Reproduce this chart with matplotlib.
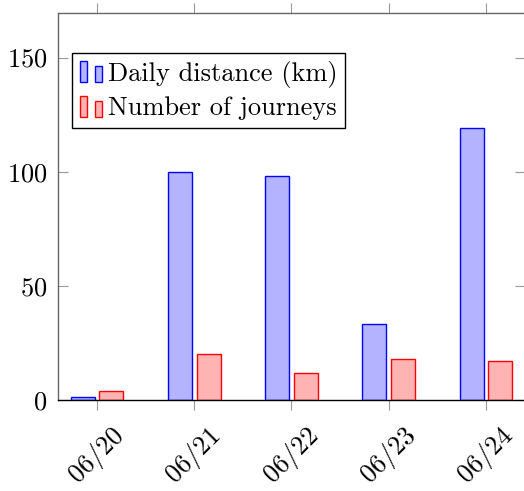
import matplotlib
matplotlib.use('Agg')
import numpy as np
import matplotlib.pyplot as plt
from matplotlib.patches import Rectangle
from matplotlib.legend_handler import HandlerBase

plt.rcParams['font.family'] = ['cmr10', 'DejaVu Serif']
plt.rcParams['mathtext.fontset'] = 'cm'
plt.rcParams['axes.formatter.use_mathtext'] = True

# data
dates = ['06/20', '06/21', '06/22', '06/23', '06/24']
distance = [1.3, 100, 98.3, 33.5, 119.3]
journeys = [4, 20, 12, 18, 17]
yticks = [0, 50, 100, 150]


class BarPairHandler(HandlerBase):
    # pgfplots style ybar legend: two little bars of different heights
    def create_artists(self, legend, orig_handle, xdescent, ydescent,
                       width, height, fontsize, trans):
        fc = orig_handle.get_facecolor()
        ec = orig_handle.get_edgecolor()
        w = width * 0.3
        r1 = Rectangle((-xdescent, -ydescent), w, height,
                       facecolor=fc, edgecolor=ec, lw=1.0, transform=trans)
        r2 = Rectangle((-xdescent + width * 0.65, -ydescent), w, height * 0.75,
                       facecolor=fc, edgecolor=ec, lw=1.0, transform=trans)
        return [r1, r2]


fig = plt.figure(figsize=(5.24, 4.91), dpi=100)
ax = fig.add_axes([58 / 524, 91 / 491, 467 / 524, 387 / 491])

x = np.arange(len(dates))
off = 0.148
bw = 0.247
b1 = ax.bar(x - off, distance, bw, facecolor='#b3b3ff', edgecolor='blue',
            lw=1.0, label='Daily distance (km)')
b2 = ax.bar(x + off, journeys, bw, facecolor='#ffb3b3', edgecolor='red',
            lw=1.0, label='Number of journeys')

ax.set_xlim(-0.4, 4.4)
ax.set_ylim(0, 169.5)
ax.set_xticks(x)
ax.set_xticklabels(dates, rotation=45)
ax.set_yticks(yticks)

for s in ['top', 'left']:
    ax.spines[s].set_color('#666666')
    ax.spines[s].set_linewidth(1.0)
# right border is cut off in the reference, only its ticks show
ax.spines['right'].set_visible(False)
ax.spines['bottom'].set_color('black')
ax.spines['bottom'].set_linewidth(1.0)

ax.tick_params(axis='x', direction='out', length=7.2, width=0.8,
               color='#999999', top=True, labelsize=19, pad=9)
ax.tick_params(axis='y', direction='in', length=7.2, width=0.8,
               color='#999999', right=True, labelsize=19, pad=7.5)

h1 = Rectangle((0, 0), 1, 1, facecolor='#b3b3ff', edgecolor='blue')
h2 = Rectangle((0, 0), 1, 1, facecolor='#ffb3b3', edgecolor='red')
leg = ax.legend([h1, h2], ['Daily distance (km)', 'Number of journeys'],
                loc='upper left',
                bbox_to_anchor=((72.3 - 58) / 467, (400 - 52.7) / 387),
                borderaxespad=0, fontsize=19, frameon=True, fancybox=False,
                framealpha=1, edgecolor='black', handlelength=0.85,
                handleheight=0.85, handletextpad=0.2, labelspacing=0.3,
                borderpad=0.3,
                handler_map={Rectangle: BarPairHandler()})
leg.get_frame().set_linewidth(1.0)

fig.savefig('out.png', dpi=100)
